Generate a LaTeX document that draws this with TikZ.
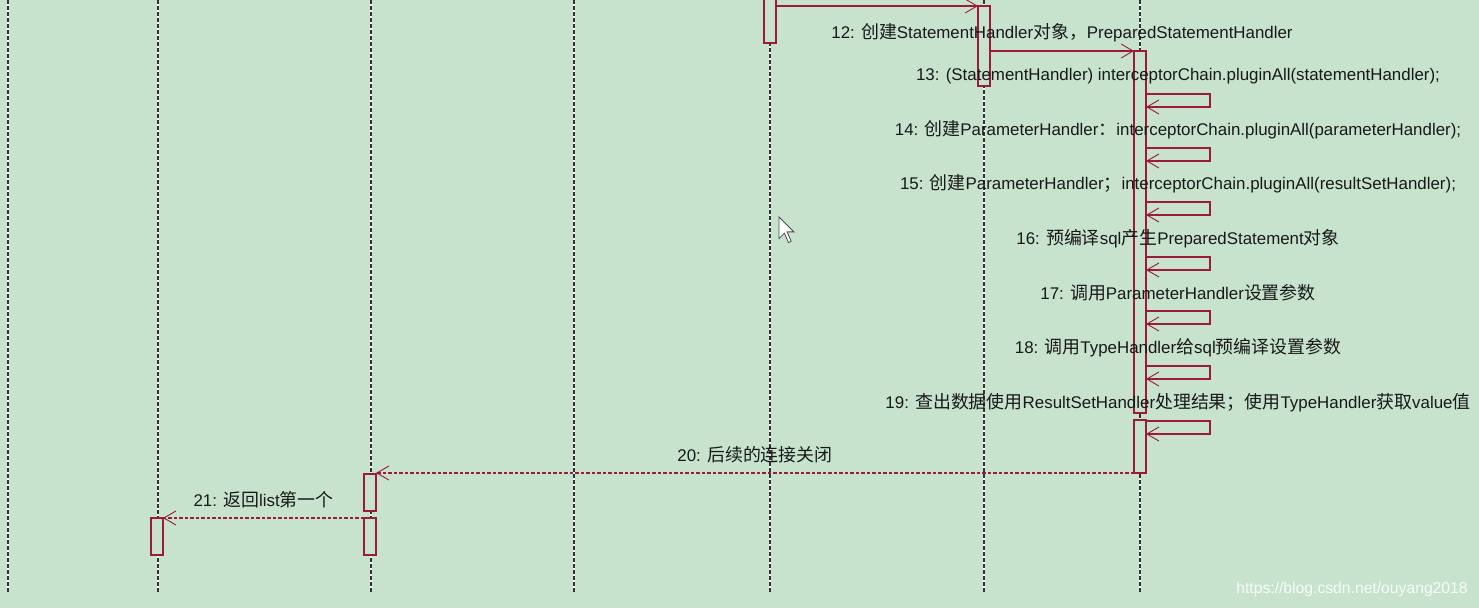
\documentclass[tikz,border=0pt]{standalone}
\usepackage{fontspec}
\setmainfont{Liberation Sans}
\newfontfamily\cjk[Scale=1.06]{Noto Sans CJK SC}
\usetikzlibrary{arrows.meta}
\definecolor{bg}{RGB}{199,227,205}
\definecolor{seqred}{RGB}{155,28,58}
\definecolor{ink}{RGB}{25,25,25}
\begin{document}
\begin{tikzpicture}[x=1pt,y=-1pt,
  lifeline/.style={draw=black!80, line width=1.1pt, dash pattern=on 4pt off 2pt},
  lifegap/.style={draw=white, line width=1.1pt},
  actbox/.style={draw=seqred, fill=bg, line width=1.1pt, minimum width=12pt, inner sep=0pt, outer sep=0pt},
  msg/.style={draw=seqred, line width=1.1pt, -{Straight Barb[length=12pt,width=14pt,line width=0.9pt]}},
  ret/.style={msg, dash pattern=on 3.5pt off 2pt},
  lbl/.style={text=ink, font=\fontsize{16.9}{20}\selectfont, inner sep=0pt, anchor=center, yshift=18pt},
  wmark/.style={text=white!85!bg, font=\fontsize{15.7}{18}\selectfont, inner sep=0pt}]
\fill[bg] (0,0) rectangle (1479,608);
\useasboundingbox (0,0) rectangle (1479,608);
% lifelines
\foreach \n/\x in {l1/8,l2/158,l3/371,l4/574,l5/770,l6/984,l7/1140}{
  \coordinate (\n top) at (\x,0);
  \coordinate (\n bot) at (\x,592);
  \draw[lifegap] (\n top) -- (\n bot);
  \draw[lifeline] (\n top) -- (\n bot);
}
% activation boxes
\node[actbox, minimum height=45pt] (A) at (770,20.5) {};
\node[actbox, minimum height=80pt] (B) at (984,46) {};
\node[actbox, minimum height=362pt] (C) at (1140,232) {};
\node[actbox, minimum height=53pt] (D) at (1140,446.5) {};
\node[actbox, minimum height=37pt] (E) at (370,492.5) {};
\node[actbox, minimum height=37pt] (F) at (370,536.5) {};
\node[actbox, minimum height=37pt] (G) at (157,536.5) {};
% messages
\draw[msg] (B.north west -| A.east) -- (B.north west);
\draw[msg] (C.north west -| B.east) -- node[lbl]{12: {\cjk 创建}StatementHandler{\cjk 对象，}PreparedStatementHandler} (C.north west);
\coordinate (s13) at ([yshift=-43pt]C.north east);
\coordinate (s14) at ([yshift=-97pt]C.north east);
\coordinate (s15) at ([yshift=-151pt]C.north east);
\coordinate (s16) at ([yshift=-206pt]C.north east);
\coordinate (s17) at ([yshift=-260pt]C.north east);
\coordinate (s18) at ([yshift=-315pt]C.north east);
\coordinate (s19) at ([yshift=-1pt]D.north east);
\draw[msg] (s13) -- node[lbl]{13: (StatementHandler) interceptorChain.pluginAll(statementHandler);} ++(64,0) -- ++(0,13) -- ++(-64,0);
\draw[msg] (s14) -- node[lbl]{14: {\cjk 创建}ParameterHandler{\cjk ：}interceptorChain.pluginAll(parameterHandler);} ++(64,0) -- ++(0,13) -- ++(-64,0);
\draw[msg] (s15) -- node[lbl]{15: {\cjk 创建}ParameterHandler{\cjk ；}interceptorChain.pluginAll(resultSetHandler);} ++(64,0) -- ++(0,13) -- ++(-64,0);
\draw[msg] (s16) -- node[lbl]{16: {\cjk 预编译}sql{\cjk 产生}PreparedStatement{\cjk 对象}} ++(64,0) -- ++(0,13) -- ++(-64,0);
\draw[msg] (s17) -- node[lbl]{17: {\cjk 调用}ParameterHandler{\cjk 设置参数}} ++(64,0) -- ++(0,13) -- ++(-64,0);
\draw[msg] (s18) -- node[lbl]{18: {\cjk 调用}TypeHandler{\cjk 给}sql{\cjk 预编译设置参数}} ++(64,0) -- ++(0,13) -- ++(-64,0);
\draw[msg] (s19) -- node[lbl]{19: {\cjk 查出数据使用}ResultSetHandler{\cjk 处理结果；使用}TypeHandler{\cjk 获取}value{\cjk 值}} ++(64,0) -- ++(0,13) -- ++(-64,0);
\draw[ret] (D.south west) -- node[lbl]{20: {\cjk 后续的连接关闭}} (D.south west -| E.east);
\draw[ret] (F.north west) -- node[lbl]{21: {\cjk 返回}list{\cjk 第一个}} (G.north east);
% mouse cursor
\draw[black!70, fill=white, line width=0.8pt, shift={(779,217)}, scale=1.35]
  (0,0) -- (0,16) -- (4,12) -- (7,19) -- (9,18) -- (6,11) -- (11,11) -- cycle;
% watermark
\node[wmark] (wm) at (1352,589) {https://blog.csdn.net/ouyang2018};
\end{tikzpicture}
\end{document}
